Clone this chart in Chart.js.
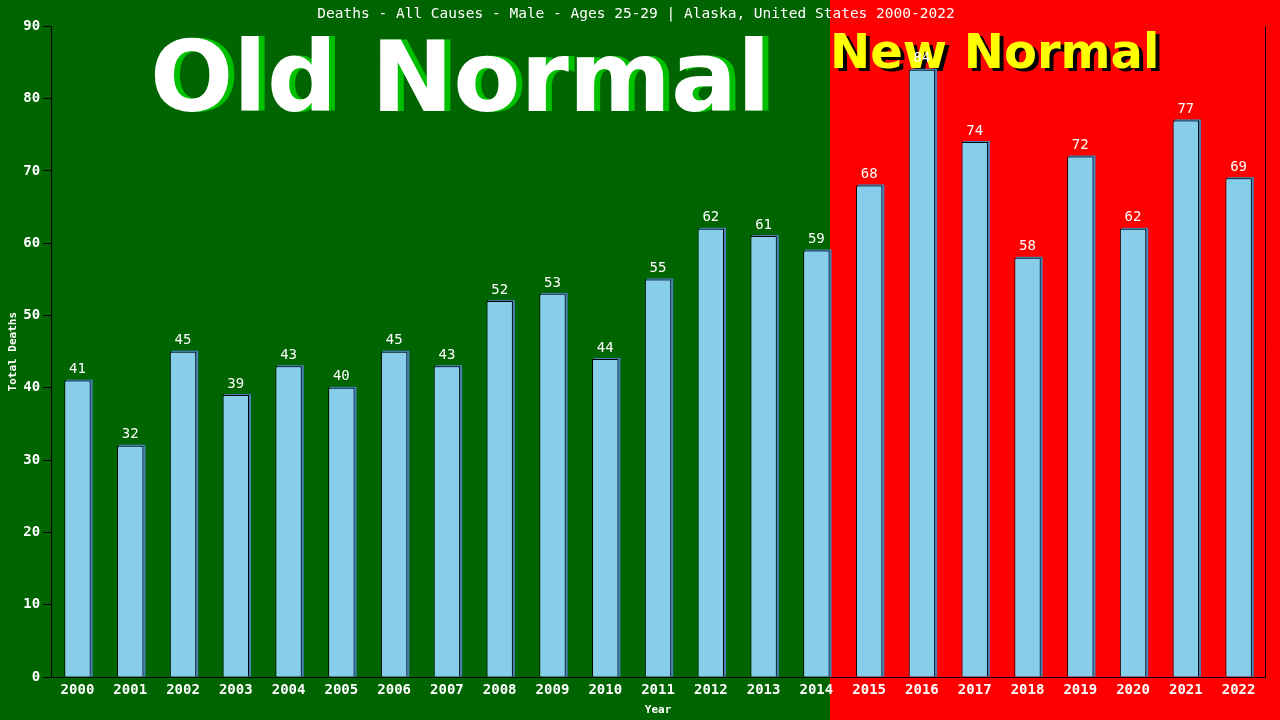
<!DOCTYPE html>
<html>
<head>
<meta charset="utf-8">
<script src="https://cdn.jsdelivr.net/npm/chart.js@4"></script>
<style>
  html, body { margin: 0; padding: 0; background: #006400; }
  #wrap { width: 1280px; height: 720px; }
</style>
</head>
<body>
<div id="wrap"><canvas id="chart" width="1280" height="720"></canvas></div>
<script>
const years = ['2000','2001','2002','2003','2004','2005','2006','2007','2008','2009','2010','2011',
  '2012','2013','2014','2015','2016','2017','2018','2019','2020','2021','2022'];
const deaths = [41, 32, 45, 39, 43, 40, 45, 43, 52, 53, 44, 55, 62, 61, 59, 68, 84, 74, 58, 72, 62, 77, 69];
const yTicks = [0, 10, 20, 30, 40, 50, 60, 70, 80, 90];
const lastOldYear = '2014';

const mono = "'DejaVu Sans Mono', 'Liberation Mono', monospace";

// green / red halves, big labels, bar shadows, frame and value labels
const backdrop = {
  id: 'backdrop',
  beforeDraw(chart) {
    const { ctx, width, height } = chart;
    const meta = chart.getDatasetMeta(0);
    const bar = meta.data[years.indexOf(lastOldYear)];
    const split = Math.round(bar.x + bar.width / 2);
    ctx.save();
    ctx.fillStyle = '#006400';
    ctx.fillRect(0, 0, split, height);
    ctx.fillStyle = '#ff0000';
    ctx.fillRect(split, 0, width - split, height);

    ctx.textBaseline = 'alphabetic';
    ctx.font = "bold 98px 'DejaVu Sans', sans-serif";
    ctx.fillStyle = '#00c000';
    ctx.fillText('Old Normal', 156, 111);
    ctx.fillStyle = '#ffffff';
    ctx.fillText('Old Normal', 150, 111);

    ctx.font = "bold 48px 'DejaVu Sans', sans-serif";
    ctx.fillStyle = '#000000';
    ctx.fillText('New Normal', 834, 71);
    ctx.fillStyle = '#ffff00';
    ctx.fillText('New Normal', 830, 68);
    ctx.restore();
  },
  beforeDatasetsDraw(chart) {
    const ctx = chart.ctx;
    const meta = chart.getDatasetMeta(0);
    ctx.save();
    ctx.fillStyle = '#4682b4';
    meta.data.forEach(bar => {
      const left = bar.x - bar.width / 2;
      ctx.fillRect(left + 2, bar.y - 1, bar.width, bar.base - bar.y + 1);
    });
    ctx.restore();
  },
  afterDatasetsDraw(chart) {
    const { ctx, chartArea } = chart;
    ctx.save();
    ctx.strokeStyle = '#000000';
    ctx.lineWidth = 1;
    ctx.beginPath();
    ctx.moveTo(Math.round(chartArea.right) + 0.5, chartArea.top);
    ctx.lineTo(Math.round(chartArea.right) + 0.5, chartArea.bottom);
    ctx.stroke();
    const meta = chart.getDatasetMeta(0);
    ctx.fillStyle = '#ffffff';
    ctx.font = '14px ' + mono;
    ctx.textAlign = 'center';
    ctx.textBaseline = 'bottom';
    meta.data.forEach((bar, i) => {
      ctx.fillText(String(deaths[i]), bar.x, bar.y - 4);
    });
    ctx.restore();
  }
};

new Chart(document.getElementById('chart'), {
  type: 'bar',
  data: {
    labels: years,
    datasets: [{
      data: deaths,
      backgroundColor: '#87ceeb',
      borderColor: '#000000',
      borderWidth: 1,
      borderSkipped: 'bottom',
      barPercentage: 0.5,
      categoryPercentage: 1.0
    }]
  },
  options: {
    responsive: false,
    animation: false,
    layout: { padding: { top: 0, right: 15, left: 7, bottom: 0 } },
    plugins: {
      legend: { display: false },
      tooltip: { enabled: false },
      title: {
        display: true,
        text: 'Deaths - All Causes - Male - Ages 25-29 | Alaska, United States 2000-2022',
        color: '#ffffff',
        font: { family: mono, size: 14.5, weight: 'normal' },
        padding: { top: 6, bottom: 3 }
      }
    },
    scales: {
      x: {
        grid: { display: false, drawTicks: false },
        border: { display: true, color: '#000000', width: 1 },
        ticks: { color: '#ffffff', font: { family: mono, size: 14, weight: 'bold' }, maxRotation: 0, padding: 5 },
        title: { display: true, text: 'Year', color: '#ffffff', font: { family: mono, size: 11, weight: 'bold' }, padding: { top: 0, bottom: 3 } }
      },
      y: {
        min: 0,
        max: 90,
        afterBuildTicks(axis) { axis.ticks = yTicks.map(v => ({ value: v })); },
        grid: { drawOnChartArea: false, color: '#000000', tickLength: 8 },
        border: { display: true, color: '#000000', width: 1 },
        ticks: { color: '#ffffff', font: { family: mono, size: 14, weight: 'bold' }, padding: 3 },
        title: { display: true, text: 'Total Deaths', color: '#ffffff', font: { family: mono, size: 11, weight: 'bold' }, padding: { top: 0, bottom: 0 } }
      }
    }
  },
  plugins: [backdrop]
});
</script>
</body>
</html>
